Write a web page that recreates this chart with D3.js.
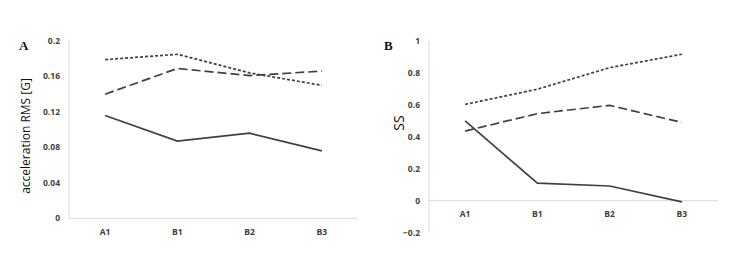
<!DOCTYPE html>
<html><head><meta charset="utf-8">
<script src="https://cdn.jsdelivr.net/npm/d3@7"></script>
<style>body{margin:0;background:#fff}svg{display:block}</style>
</head><body><svg id="c" width="750" height="277"></svg>
<script>
const categories = ["A1","B1","B2","B3"];
// Panel A: acceleration RMS [G]
const aDotted = [0.179, 0.185, 0.164, 0.150];
const aDashed = [0.140, 0.169, 0.161, 0.166];
const aSolid  = [0.116, 0.087, 0.096, 0.076];
const aTicks  = [0, 0.04, 0.08, 0.12, 0.16, 0.2];
// Panel B: SS
const bDotted = [0.603, 0.698, 0.833, 0.917];
const bDashed = [0.436, 0.545, 0.597, 0.490];
const bSolid  = [0.500, 0.110, 0.092, -0.008];
const bTicks  = [-0.2, 0, 0.2, 0.4, 0.6, 0.8, 1];

const svg = d3.select("#c");
const lineColor = "#404040";
const axisColor = "#d9d9d9";
const tickColor = "#404040";

function panel(opt){
  const g = svg.append("g");
  const x = d3.scaleBand().domain(categories).range([opt.x0, opt.x1]);
  const y = d3.scaleLinear().domain(opt.domain).range([opt.yBottom, opt.yTop]);
  g.append("line").attr("x1",opt.x0).attr("x2",opt.x0)
    .attr("y1",y(opt.domain[0])).attr("y2",y(opt.domain[1]))
    .attr("stroke",axisColor).attr("stroke-width",1);
  g.append("line").attr("x1",opt.x0).attr("x2",opt.x1)
    .attr("y1",y(0)).attr("y2",y(0))
    .attr("stroke",axisColor).attr("stroke-width",1);
  g.selectAll(".yt").data(opt.ticks).enter().append("text")
    .attr("x",opt.x0-9).attr("y",d=>y(d)).attr("dy","0.35em")
    .attr("text-anchor","end")
    .attr("font-family","Open Sans, sans-serif").attr("font-size",8.5).attr("font-weight",700)
    .attr("fill",tickColor).text(d=>d3.format("")(+d.toFixed(2)));
  g.selectAll(".xt").data(categories).enter().append("text")
    .attr("x",d=>x(d)+x.bandwidth()/2).attr("y",y(0)+opt.xLabelOff).attr("dy","0.35em")
    .attr("text-anchor","middle")
    .attr("font-family","Open Sans, sans-serif").attr("font-size",8.5).attr("font-weight",700)
    .attr("fill",tickColor).text(d=>d);
  const line = d3.line().x((d,i)=>x(categories[i])+x.bandwidth()/2).y(d=>y(d));
  const series = [
    {v:opt.solid, dash:null},
    {v:opt.dashed, dash:"9,4"},
    {v:opt.dotted, dash:"3,2"}
  ];
  series.forEach(s=>{
    g.append("path").datum(s.v).attr("d",line).attr("fill","none")
      .attr("stroke",lineColor).attr("stroke-width",1.7)
      .attr("stroke-dasharray",s.dash);
  });
  g.append("text").attr("x",opt.letterX).attr("y",50)
    .attr("font-family","Liberation Serif, serif").attr("font-weight","bold")
    .attr("font-size",13).attr("fill","#111").text(opt.letter);
  g.append("text").attr("transform",`translate(${opt.titleX},${opt.titleY}) rotate(-90)`)
    .attr("text-anchor","middle").attr("dy","0.35em")
    .attr("font-family","Open Sans, sans-serif").attr("font-size",opt.titleSize)
    .attr("fill","#111").text(opt.title);
}

panel({x0:69, x1:358, yTop:41, yBottom:218.3, domain:[0,0.2], ticks:aTicks,
  solid:aSolid, dashed:aDashed, dotted:aDotted, letter:"A", letterX:19,
  title:"acceleration RMS [G]", titleX:26, titleY:136, titleSize:12, xLabelOff:14});
panel({x0:429, x1:718, yTop:41, yBottom:232.6, domain:[-0.2,1], ticks:bTicks,
  solid:bSolid, dashed:bDashed, dotted:bDotted, letter:"B", letterX:384,
  title:"SS", titleX:399, titleY:123, titleSize:14, xLabelOff:13.5});
</script></body></html>
